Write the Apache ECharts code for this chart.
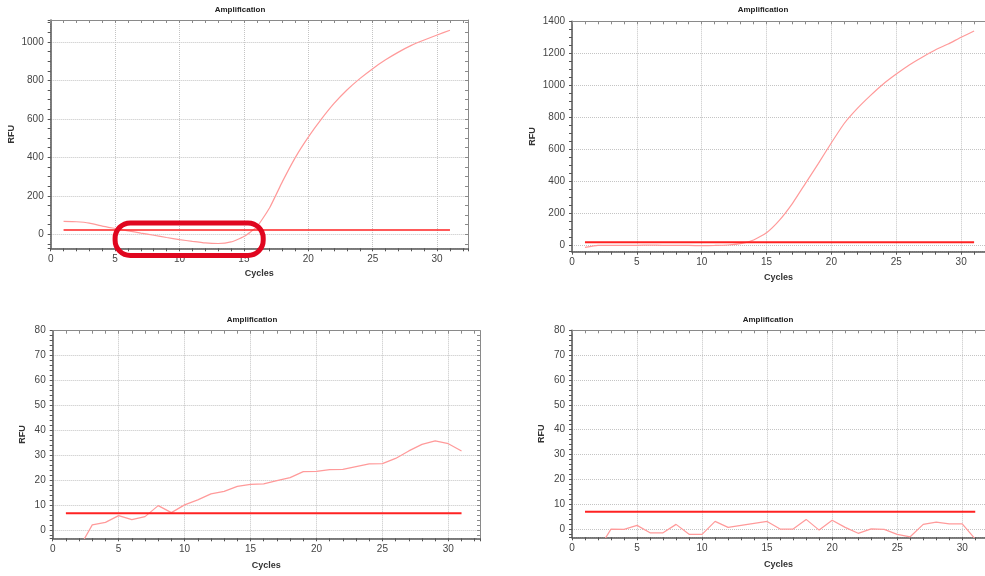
<!DOCTYPE html>
<html>
<head>
<meta charset="utf-8">
<script src="https://cdn.jsdelivr.net/npm/echarts@6/dist/echarts.min.js"></script>
<style>
html,body{margin:0;padding:0;background:#fff;}
#c{width:985px;height:576px;}
</style>
</head>
<body>
<div id="c"></div>
<script>
// ---- data ----
const cycles = [1,2,3,4,5,6,7,8,9,10,11,12,13,14,15,16,17,18,19,20,21,22,23,24,25,26,27,28,29,30,31];
const rfuTopLeft = [67,65,58,42,30,18,6,-5,-17,-28,-37,-45,-48,-40,-12,38,138,275,400,505,597,680,750,809,861,907,947,982,1010,1036,1061];
const rfuTopRight = [-15,-3,-2,-3,-2,-1,-2,-3,-3,-4,-3,0,8,31,77,156,261,386,511,640,762,855,935,1008,1070,1127,1175,1220,1258,1300,1339];
const rfuBottomLeft = [-12,-7,2.3,3.3,6.0,4.4,5.6,10.0,7.2,10.3,12.3,14.7,15.7,17.7,18.5,18.7,20.0,21.2,23.6,23.7,24.4,24.5,25.6,26.7,26.8,28.9,31.9,34.5,35.9,34.8,31.9];
const rfuBottomRight = [-12,-8.4,0,-0.1,1.5,-1.5,-1.5,1.9,-2.1,-2.1,3.1,0.7,1.5,2.3,3.1,0,0,3.9,-0.4,3.6,0.7,-1.7,0.1,-0.1,-2.1,-3.1,1.9,2.8,2.1,2.1,-4];
const thresholds = [22, 17, 7, 7];
const panelTitle = 'Amplification';
const xName = 'Cycles';
const yName = 'RFU';
// highlighted region in top-left panel (data coords: cycle, RFU)
const highlightFrom = [5.0, 59];
const highlightTo = [16.5, -110];

// ---- layout ----
const panels = [
  {vals: rfuTopLeft, grid:{left:50.7, top:20, width:417.3, height:228.3}, xMax:32.4, yMin:-73, yMax:1114, split:6, minor:4, showMax:false, yGap:35, xGap:21, title:[240,10], thrW:1.5, smooth:0.15, rightBorder:true},
  {vals: rfuTopRight, grid:{left:572, top:21.3, width:413, height:230.4}, xMax:31.84, yMin:-42, yMax:1400, split:7, minor:4, showMax:true, yGap:35, xGap:21, title:[763,10], thrW:1.8, smooth:0.15, rightBorder:false},
  {vals: rfuBottomLeft, grid:{left:52.7, top:330.7, width:427.3, height:207.6}, xMax:32.4, yMin:-3.07, yMax:80, split:8, minor:5, showMax:true, yGap:26, xGap:23, title:[252,320], thrW:2, smooth:false, rightBorder:true},
  {vals: rfuBottomRight, grid:{left:572, top:330.3, width:413, height:207}, xMax:31.75, yMin:-3.3, yMax:80, split:8, minor:5, showMax:true, yGap:26, xGap:23, title:[768,320], thrW:2, smooth:false, rightBorder:false}
];

const FONT = 'Liberation Sans, Arial, sans-serif';
const axisDark = '#555';
const borderGray = '#8a8a8a';
const gridDot = {type:'dotted', color:'#c4c4c4', width:1};
const plain = v => String(Math.round(v * 100) / 100);

const grids = [], xAxes = [], yAxes = [], series = [], graphics = [];
panels.forEach((p, i) => {
  grids.push(Object.assign({containLabel:false}, p.grid));
  // bottom x
  xAxes.push({
    type:'value', gridIndex:i, position:'bottom', min:0, max:p.xMax, interval:5,
    name:xName, nameLocation:'middle', nameGap:p.xGap,
    nameTextStyle:{fontFamily:FONT, fontSize:9, fontWeight:'bold', color:'#333'},
    axisLine:{show:true, onZero:false, lineStyle:{color:axisDark, width:1.5}},
    axisTick:{show:true, length:3, lineStyle:{color:axisDark}},
    minorTick:{show:true, splitNumber:5, length:3, lineStyle:{color:axisDark}},
    axisLabel:{fontFamily:FONT, fontSize:10, color:'#444', margin:6, showMaxLabel:false, formatter:plain},
    splitLine:{show:true, lineStyle:gridDot}
  });
  // top x (border with ticks)
  xAxes.push({
    type:'value', gridIndex:i, position:'top', min:0, max:p.xMax, interval:5,
    axisLine:{show:true, onZero:false, lineStyle:{color:borderGray, width:1}},
    axisTick:{show:true, inside:true, length:3, lineStyle:{color:borderGray}},
    minorTick:{show:true, splitNumber:5, length:3, lineStyle:{color:borderGray}},
    axisLabel:{show:false}, splitLine:{show:false}
  });
  // left y
  yAxes.push({
    type:'value', gridIndex:i, position:'left', min:p.yMin, max:p.yMax, splitNumber:p.split,
    name:yName, nameLocation:'middle', nameGap:p.yGap,
    nameTextStyle:{fontFamily:FONT, fontSize:9, fontWeight:'bold', color:'#333'},
    axisLine:{show:true, onZero:false, lineStyle:{color:axisDark, width:1.5}},
    axisTick:{show:true, length:3, lineStyle:{color:axisDark}},
    minorTick:{show:true, splitNumber:p.minor, length:3, lineStyle:{color:axisDark}},
    axisLabel:{fontFamily:FONT, fontSize:10, color:'#444', margin:7, showMinLabel:false, showMaxLabel:p.showMax, formatter:plain},
    splitLine:{show:true, lineStyle:gridDot}
  });
  // right y
  yAxes.push({
    type:'value', gridIndex:i, position:'right', min:p.yMin, max:p.yMax, splitNumber:p.split,
    show:p.rightBorder,
    axisLine:{show:true, onZero:false, lineStyle:{color:borderGray, width:1}},
    axisTick:{show:true, inside:true, length:3, lineStyle:{color:borderGray}},
    minorTick:{show:true, splitNumber:p.minor, length:3, lineStyle:{color:borderGray}},
    axisLabel:{show:false}, splitLine:{show:false}
  });
  series.push({
    type:'line', xAxisIndex:2*i, yAxisIndex:2*i,
    data: cycles.map((c, k) => [c, p.vals[k]]),
    showSymbol:false, symbol:'none', clip:true, z:3, smooth:p.smooth,
    lineStyle:{color:'#ff9a9a', width:1.2}
  });
  series.push({
    type:'line', xAxisIndex:2*i, yAxisIndex:2*i,
    data: [[cycles[0], thresholds[i]], [cycles[cycles.length-1], thresholds[i]]],
    showSymbol:false, symbol:'none', z:4,
    lineStyle:{color:'#ff2222', width:p.thrW}
  });
  graphics.push({
    type:'text', x:p.title[0], y:p.title[1],
    style:{text:panelTitle, textAlign:'center', textVerticalAlign:'middle',
      font:'bold 8px ' + FONT, fill:'#222'}
  });
});

const chart = echarts.init(document.getElementById('c'), null, {renderer:'canvas'});
chart.setOption({
  animation:false,
  backgroundColor:'#fff',
  grid:grids, xAxis:xAxes, yAxis:yAxes, series:series, graphic:graphics
});

// highlight annotation, positioned from data coords
const a = chart.convertToPixel({gridIndex:0}, highlightFrom);
const b = chart.convertToPixel({gridIndex:0}, highlightTo);
const hx = Math.min(a[0], b[0]), hy = Math.min(a[1], b[1]);
const hw = Math.abs(b[0]-a[0]), hh = Math.abs(b[1]-a[1]);
graphics.push({
  type:'rect', z:100,
  shape:{x:hx, y:hy, width:hw, height:hh, r:hh/2 - 1},
  style:{fill:'none', stroke:'#e0061f', lineWidth:5}
});
chart.setOption({graphic:graphics});
</script>
</body>
</html>
